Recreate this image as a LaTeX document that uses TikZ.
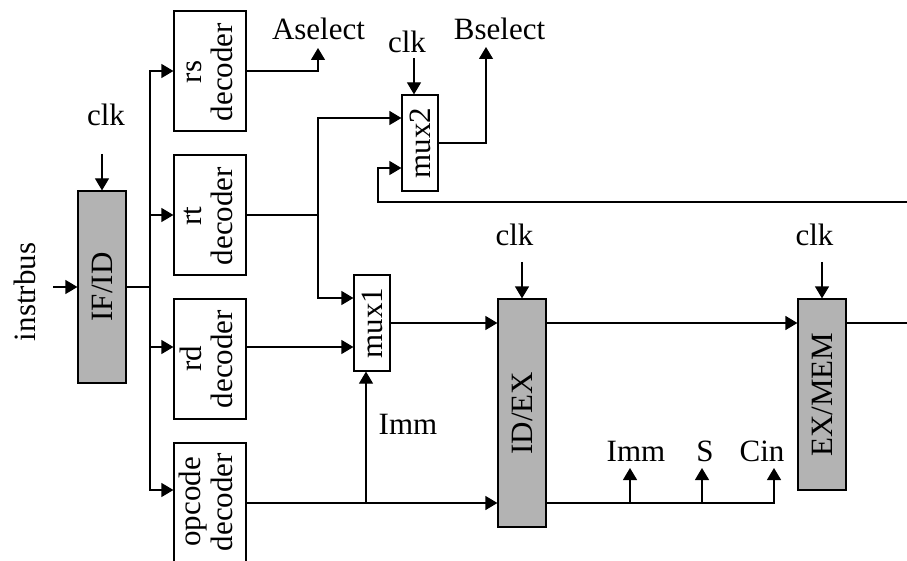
\documentclass[tikz,border=0pt]{standalone}
\usepackage{fontspec}
\setmainfont{Liberation Serif}
\usetikzlibrary{arrows.meta}
\definecolor{regfill}{RGB}{179,179,179}
\begin{document}
\begin{tikzpicture}[x=1pt,y=-1pt,
  font=\fontsize{31}{36}\selectfont,
  line width=1.2pt,
  >={Triangle[length=12pt,width=14pt]},
  blk/.style={draw, minimum width=72pt, minimum height=120pt, inner sep=0pt},
  reg/.style={draw, fill=regfill, minimum width=48pt, inner sep=0pt},
  muxbox/.style={draw, minimum width=36pt, minimum height=96pt, inner sep=0pt},
  vtext/.style={rotate=90, align=center, inner sep=0pt},
  vline/.style={rotate=90, anchor=base, inner sep=0pt},
  lbl/.style={inner sep=0pt}]
\useasboundingbox (0,0) rectangle (907,561);

% decoders
\node[blk] (rs) at (210,71) {};
\node[blk] (rt) at (210,215) {};
\node[blk] (rd) at (210,359) {};
\node[blk] (op) at (210,503) {};
\node[vline] (rsA) at (201,72) {rs};
\node[vline] (rsB) at (232,72) {decoder};
\node[vline] (rtA) at (201,216) {rt};
\node[vline] (rtB) at (232,216) {decoder};
\node[vline] (rdA) at (201,359) {rd};
\node[vline] (rdB) at (232,359) {decoder};
\node[vline] (opA) at (200,502) {opcode};
\node[vline] (opB) at (232,502) {decoder};

% pipeline registers
\node[reg, minimum height=192pt] (ifid) at (102,287) {};
\node[vtext] (ifidT) at (ifid.center) {IF/ID};
\node[reg, minimum height=228pt] (idex) at (522,413) {};
\node[vtext] (idexT) at (idex.center) {ID/EX};
\node[reg, minimum height=191pt] (exmem) at (822,394.5) {};
\node[vtext] (exmemT) at (exmem.center) {EX/MEM};

% muxes
\node[muxbox] (mux2) at (420,143) {};
\node[vtext] (mux2T) at (mux2.center) {mux2};
\node[muxbox] (mux1) at (372,323) {};
\node[vtext] (mux1T) at (mux1.center) {mux1};

% labels
\node[vtext] (instr) at (25,292) {instrbus};
\node[lbl] (clk0) at (106,115) {clk};
\node[lbl] (clk1) at (407,42) {clk};
\node[lbl] (clk2) at (514.5,235) {clk};
\node[lbl] (clk3) at (814.5,235) {clk};
\node[lbl] (asel) at (318.5,29) {Aselect};
\node[lbl] (bsel) at (499.5,29) {Bselect};
\node[lbl] (imm1) at (408,424) {Imm};
\node[lbl] (imm2) at (636,451) {Imm};
\node[lbl] (sT) at (705,451) {S};
\node[lbl] (cinT) at (762,451) {Cin};

% coordinates
\coordinate (inb) at (53,287);
\coordinate (bus) at (150,287);
\coordinate (aselTip) at (318,48);
\coordinate (bselTip) at (486,47);
\coordinate (rtj) at (318,215);
\coordinate (fbR) at (907,202);
\coordinate (fbL) at (378,202);
\coordinate (fbU) at (378,168);
\coordinate (c0) at (102,154);
\coordinate (c1) at (414,58);
\coordinate (c2) at (522,262);
\coordinate (c3) at (822,262);
\coordinate (immj) at (366,503);
\coordinate (outR) at (907,323);
\coordinate (tImm) at (630,468);
\coordinate (tS) at (702,468);
\coordinate (tCin) at (774,468);

% connectors
\draw[->] (inb) -- (ifid.west);
\draw (ifid.east) -- (bus);
\draw[->] (bus) |- (rs.west);
\draw[->] (bus) |- (rt.west);
\draw[->] (bus) |- (rd.west |- 0,347);
\draw[->] (bus) |- (op.west |- 0,490);
\draw[->] (c0) -- (ifid.north);

\draw[->] (rs.east) -| (aselTip);
\draw (rt.east) -- (rtj);
\draw[->] (rtj) |- (mux2.west |- 0,118);
\draw[->] (rtj) |- (mux1.west |- 0,298);
\draw[->] (fbR) -- (fbL) -- (fbU) -- (mux2.west |- fbU);
\draw[->] (c1) -- (mux2.north -| c1);
\draw[->] (mux2.east) -| (bselTip);

\draw[->] (rd.east |- 0,347) -- (mux1.west |- 0,347);
\draw[->] (op.east) -- (idex.west |- op.east);
\draw[->] (immj) -- (mux1.south -| immj);
\draw[->] (mux1.east) -- (idex.west |- mux1.east);
\draw[->] (c2) -- (idex.north);
\draw[->] (c3) -- (exmem.north);
\draw[->] (idex.east |- 0,323) -- (exmem.west |- 0,323);
\draw (exmem.east |- 0,323) -- (outR);
\draw[->] (idex.east |- 0,503) -| (tCin);
\draw[->] (tImm |- 0,503) -- (tImm);
\draw[->] (tS |- 0,503) -- (tS);
\end{tikzpicture}
\end{document}
